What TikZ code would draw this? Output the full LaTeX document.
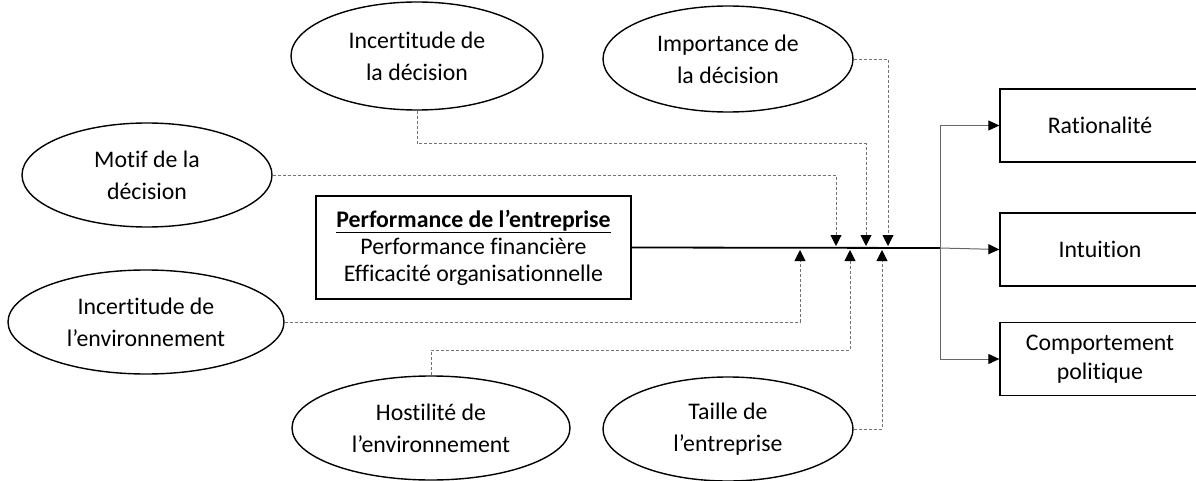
\documentclass[tikz,border=0pt]{standalone}
\usepackage{fontspec}
\setmainfont{Carlito}[Ligatures={NoCommon}]
\usetikzlibrary{shapes.geometric,arrows.meta}
\begin{document}
\begin{tikzpicture}[x=1pt,y=-1pt,
  oval/.style={draw,ellipse,line width=1.4pt,inner sep=0pt,align=center,
    font=\fontsize{23.8}{32}\selectfont},
  resbox/.style={draw,rectangle,line width=1.3pt,inner sep=0pt,align=center,
    minimum width=200pt,minimum height=73pt,font=\fontsize{23.8}{28.5}\selectfont},
  infl/.style={draw=black!55,line width=0.9pt,dash pattern=on 3pt off 2pt,
    -{Triangle[length=11pt,width=11pt,color=black]}},
  outarrow/.style={draw=black!60,line width=1pt,
    -{Triangle[length=11pt,width=10pt,color=black]}}
]
\useasboundingbox (0,0) rectangle (1196,481);

% ellipses
\node[oval,minimum width=252pt,minimum height=108pt] (idec) at (417,56) {Incertitude de\\la décision};
\node[oval,minimum width=250pt,minimum height=106pt] (imp) at (728,59) {Importance de\\la décision};
\node[oval,minimum width=250pt,minimum height=104pt] (motif) at (147,175) {Motif de la\\décision};
\node[oval,minimum width=276pt,minimum height=104pt] (ienv) at (146,322) {Incertitude de\\l’environnement};
\node[oval,minimum width=278pt,minimum height=104pt] (host) at (431,428) {Hostilité de\\l’environnement};
\node[oval,minimum width=250pt,minimum height=104pt] (taille) at (728,429) {Taille de\\l’entreprise};

% central box
\node[draw,rectangle,line width=1.5pt,inner sep=0pt,minimum width=315pt,minimum height=103pt,
  align=center,font=\fontsize{23.8}{27}\selectfont] (perf) at (473.5,247.5)
  {\textbf{\underline{Performance de l’entreprise}}\\Performance financière\\Efficacité organisationnelle};

% outcome boxes
\node[resbox] (rat) at (1100,125.5) {Rationalité};
\node[resbox] (intu) at (1100,249.5) {Intuition};
\node[resbox] (comp) at (1100,359) {Comportement\\politique};

% junction and arrow targets
\coordinate (j) at (940,248);
\coordinate (t1) at (836,246);
\coordinate (t2) at (866,246);
\coordinate (t3) at (888,246);
\coordinate (b1) at (800,250);
\coordinate (b2) at (850,250);
\coordinate (b3) at (882,250);

% main line
\draw[line width=1.8pt] (perf.east) -- (j);
\draw[outarrow] (j) |- (rat.west);
\draw[outarrow] (j) -- (intu.west);
\draw[outarrow] (j) |- (comp.west);

% moderators
\draw[infl] (motif.east) -| (t1);
\draw[infl] (idec.south) -- ++(0,33) -| (t2);
\draw[infl] (imp.east) -| (t3);
\draw[infl] (ienv.east) -| (b1);
\draw[infl] (host.north) -- ++(0,-25) -| (b2);
\draw[infl] (taille.east) -| (b3);
\end{tikzpicture}
\end{document}
